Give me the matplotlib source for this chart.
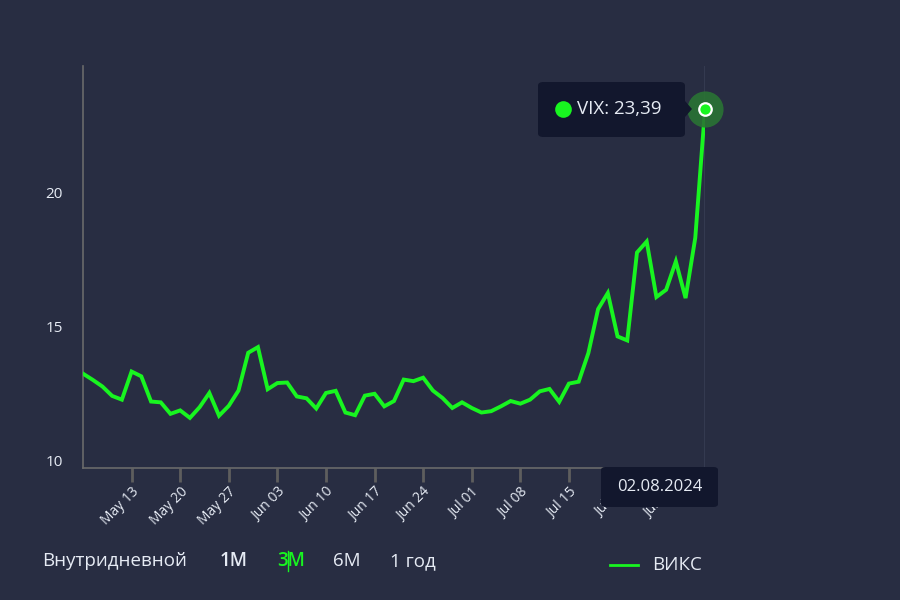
import matplotlib.pyplot as plt
import matplotlib.transforms as mtransforms
from matplotlib.patches import FancyBboxPatch, Polygon

# VIX daily closes, 06.05.2024 - 02.08.2024 (5 points per week)
vix = [13.52, 13.29, 13.04, 12.69, 12.55,
       13.60, 13.42, 12.48, 12.45, 12.02,
       12.15, 11.87, 12.27, 12.80, 11.95,
       12.32, 12.89, 14.30, 14.51, 12.94,
       13.17, 13.19, 12.67, 12.60, 12.22,
       12.80, 12.88, 12.07, 11.97, 12.70,
       12.77, 12.30, 12.50, 13.30, 13.24,
       13.37, 12.89, 12.61, 12.24, 12.45,
       12.24, 12.07, 12.12, 12.30, 12.50,
       12.40, 12.55, 12.86, 12.95, 12.47,
       13.15, 13.22, 14.29, 15.93, 16.53,
       14.91, 14.76, 18.04, 18.45, 16.38,
       16.65, 17.71, 16.34, 18.59, 23.39]
tick_pos = [5, 10, 15, 20, 25, 30, 35, 40, 45, 50, 55, 60]
tick_labels = ["May 13", "May 20", "May 27", "Jun 03", "Jun 10", "Jun 17",
               "Jun 24", "Jul 01", "Jul 08", "Jul 15", "Jul 22", "Jul 29"]
y_ticks = [10, 15, 20]
last_date = "02.08.2024"
last_label = "VIX: 23,39"
ranges = ["Внутридневной", "1M", "3M", "6M", "1 год"]
range_x = [42, 220, 277, 333, 390]
legend_name = "ВИКС"

BG = "#282d42"
GREEN = "#18f520"
TXT = "#e6ebf4"
BOX = "#12172d"

plt.rcParams['font.family'] = ['Open Sans', 'DejaVu Sans']

fig = plt.figure(figsize=(9, 6), dpi=100, facecolor=BG)
ax = fig.add_axes([83 / 900, 1 - 468 / 600, 622 / 900, 402 / 600])
ax.set_facecolor(BG)

x = list(range(len(vix)))
ax.plot(x, vix, color=GREEN, lw=2.8, solid_joinstyle='miter', zorder=3)
ax.set_xlim(0, len(vix) - 1)
ax.set_ylim(10, 25)

# crosshair at the last point
ax.axvline(x[-1], color="#343a50", lw=1.5, zorder=1)

for s in ['top', 'right']:
    ax.spines[s].set_visible(False)
for s in ['left', 'bottom']:
    ax.spines[s].set_color('#6a6a6a')
    ax.spines[s].set_linewidth(1.2)

ax.set_yticks(y_ticks)
ax.set_yticklabels([str(v) for v in y_ticks], fontsize=11, color=TXT)
ax.tick_params(axis='y', length=0, pad=14.5)
shift = mtransforms.ScaledTranslation(0, 7 / 100, fig.dpi_scale_trans)
for lab in ax.get_yticklabels():
    lab.set_transform(lab.get_transform() + shift)

ax.set_xticks(tick_pos)
ax.set_xticklabels(tick_labels, fontsize=10, color=TXT, rotation=45,
                   ha='right', rotation_mode='anchor')
ax.tick_params(axis='x', length=10, width=2, color='#5e5e5e', pad=2)

# highlighted last point
ax.plot(x[-1], vix[-1], 'o', ms=26, color='#2a7434', alpha=0.9, zorder=4,
        clip_on=False, mec='none')
ax.plot(x[-1], vix[-1], 'o', ms=9, color=GREEN, mec='white', mew=1.6,
        zorder=5, clip_on=False)

# tooltip with value
fig.patches.append(FancyBboxPatch((538 / 900, 1 - 137 / 600), 147 / 900, 55 / 600,
                                  boxstyle="round,pad=0,rounding_size=0.006",
                                  transform=fig.transFigure, fc=BOX, ec='none',
                                  zorder=6))
fig.patches.append(Polygon([(685 / 900, 1 - 101 / 600), (692 / 900, 1 - 109 / 600),
                            (685 / 900, 1 - 117 / 600)],
                           transform=fig.transFigure, fc=BOX, ec='none', zorder=6))
fig.add_artist(plt.Line2D([563 / 900], [1 - 109 / 600], marker='o', ms=12,
                          color=GREEN, mec='none', transform=fig.transFigure,
                          zorder=7))
fig.text(577 / 900, 1 - 109 / 600, last_label, fontsize=13.5, color=TXT,
         va='center', ha='left', zorder=8)

# date label under crosshair
fig.patches.append(FancyBboxPatch((601 / 900, 1 - 507 / 600), 117 / 900, 40 / 600,
                                  boxstyle="round,pad=0,rounding_size=0.005",
                                  transform=fig.transFigure, fc=BOX, ec='none',
                                  zorder=6))
fig.text(660 / 900, 1 - 487 / 600, last_date, fontsize=12, color=TXT,
         va='center', ha='center', zorder=8)

# range selector
for name, px in zip(ranges, range_x):
    col = GREEN if name == "3M" else TXT
    fig.text(px / 900, 1 - 561 / 600, name, fontsize=13.5, color=col,
             va='center', ha='left',
             fontweight='semibold' if name in ("1M", "3M") else 'normal')
fig.add_artist(plt.Line2D([288 / 900, 288 / 900], [1 - 571 / 600, 1 - 551 / 600],
                          color=GREEN, lw=1, transform=fig.transFigure))

# legend
fig.add_artist(plt.Line2D([610 / 900, 638 / 900], [1 - 565 / 600, 1 - 565 / 600],
                          color=GREEN, lw=2, transform=fig.transFigure))
fig.text(652 / 900, 1 - 565 / 600, legend_name, fontsize=13.5, color=TXT,
         va='center', ha='left')

fig.savefig("out.png", dpi=100, facecolor=BG)
